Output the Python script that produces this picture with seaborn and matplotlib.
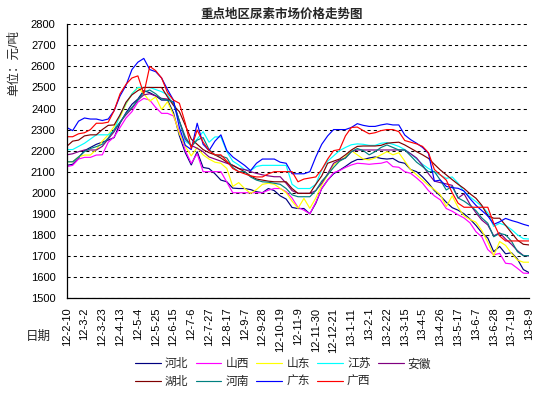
import numpy as np
import pandas as pd
import seaborn as sns
import matplotlib
matplotlib.use('Agg')
import matplotlib.pyplot as plt

# weekly prices, 2012-02-10 .. 2013-08-09 (79 weeks), 元/吨
tick_labels = ['12-2-10', '12-3-2', '12-3-23', '12-4-13', '12-5-4', '12-5-25', '12-6-15',
               '12-7-6', '12-7-27', '12-8-17', '12-9-7', '12-9-28', '12-10-19', '12-11-9',
               '12-11-30', '12-12-21', '13-1-11', '13-2-1', '13-2-22', '13-3-15', '13-4-5',
               '13-4-26', '13-5-17', '13-6-7', '13-6-28', '13-7-19', '13-8-9']

hebei = [2130, 2135, 2165, 2200, 2215, 2230, 2240, 2250, 2262, 2330,
         2380, 2420, 2445, 2485, 2475, 2460, 2440, 2440, 2380, 2270,
         2190, 2132, 2195, 2120, 2115, 2090, 2060, 2052, 2022, 2020,
         2020, 2015, 2005, 2000, 2020, 2010, 1985, 1970, 1930, 1925,
         1925, 1900, 1950, 2020, 2060, 2090, 2107, 2125, 2145, 2158,
         2158, 2165, 2170, 2163, 2160, 2163, 2146, 2140, 2110, 2100,
         2075, 2045, 2010, 1985, 1955, 1929, 1917, 1900, 1875, 1845,
         1810, 1785, 1720, 1745, 1710, 1715, 1685, 1635, 1620]
shanxi = [2124, 2130, 2160, 2168, 2168, 2179, 2180, 2240, 2265, 2310,
          2355, 2385, 2430, 2448, 2440, 2405, 2377, 2377, 2365, 2290,
          2200, 2140, 2185, 2100, 2100, 2100, 2100, 2050, 2000, 2000,
          2000, 2000, 2000, 2000, 2012, 2020, 2020, 2005, 1975, 1930,
          1917, 1900, 1955, 2020, 2060, 2095, 2105, 2120, 2132, 2140,
          2138, 2135, 2138, 2140, 2148, 2124, 2121, 2100, 2092, 2070,
          2045, 2010, 1985, 1966, 1925, 1912, 1895, 1880, 1857, 1815,
          1790, 1730, 1705, 1712, 1665, 1662, 1641, 1618, 1617]
shandong = [2147, 2147, 2170, 2179, 2179, 2205, 2245, 2275, 2315, 2360,
            2420, 2470, 2500, 2470, 2435, 2455, 2395, 2432, 2370, 2280,
            2220, 2175, 2215, 2180, 2160, 2145, 2140, 2115, 2030, 2048,
            2020, 1997, 2015, 2040, 2045, 2040, 2021, 2000, 1960, 1926,
            1973, 1926, 1975, 2037, 2084, 2132, 2150, 2170, 2200, 2180,
            2160, 2156, 2165, 2180, 2195, 2180, 2190, 2150, 2110, 2085,
            2060, 2035, 2015, 1990, 1934, 1985, 1930, 1890, 1873, 1860,
            1820, 1765, 1701, 1768, 1750, 1712, 1680, 1670, 1670]
jiangsu = [2205, 2205, 2220, 2235, 2255, 2275, 2275, 2275, 2295, 2370,
           2425, 2470, 2500, 2500, 2500, 2490, 2480, 2465, 2420, 2340,
           2245, 2225, 2255, 2290, 2240, 2265, 2265, 2195, 2150, 2132,
           2110, 2105, 2125, 2130, 2130, 2130, 2130, 2130, 2040, 2020,
           2020, 2020, 2040, 2110, 2150, 2175, 2200, 2215, 2228, 2232,
           2230, 2225, 2225, 2235, 2238, 2230, 2220, 2205, 2185, 2160,
           2135, 2115, 2100, 2084, 2068, 2075, 2045, 2005, 1980, 1958,
           1935, 1905, 1840, 1855, 1845, 1825, 1800, 1782, 1780]
anhui = [2180, 2185, 2195, 2203, 2203, 2203, 2220, 2255, 2290, 2335,
         2370, 2400, 2440, 2465, 2470, 2460, 2448, 2445, 2430, 2340,
         2255, 2225, 2211, 2195, 2170, 2160, 2150, 2140, 2130, 2115,
         2110, 2100, 2092, 2085, 2080, 2076, 2076, 2045, 2010, 1997,
         1997, 1997, 2010, 2045, 2090, 2140, 2155, 2165, 2195, 2203,
         2203, 2203, 2203, 2203, 2203, 2203, 2203, 2203, 2185, 2165,
         2130, 2090, 2055, 2048, 2042, 2035, 1975, 1995, 1945, 1905,
         1870, 1847, 1795, 1810, 1780, 1755, 1725, 1702, 1700]
hubei = [2220, 2245, 2250, 2270, 2275, 2275, 2300, 2320, 2322, 2370,
         2430, 2465, 2485, 2500, 2500, 2500, 2500, 2455, 2415, 2385,
         2320, 2255, 2230, 2205, 2190, 2180, 2165, 2145, 2130, 2115,
         2100, 2080, 2065, 2060, 2055, 2052, 2052, 2052, 2020, 1997,
         1997, 1997, 2040, 2080, 2140, 2150, 2160, 2180, 2203, 2220,
         2222, 2222, 2222, 2225, 2235, 2238, 2240, 2227, 2211, 2195,
         2180, 2163, 2135, 2108, 2085, 2062, 2040, 2020, 1995, 1974,
         1940, 1890, 1879, 1879, 1845, 1810, 1775, 1755, 1752]
henan = [2147, 2147, 2170, 2195, 2210, 2219, 2230, 2260, 2300, 2335,
         2377, 2405, 2440, 2478, 2488, 2470, 2445, 2440, 2430, 2340,
         2266, 2219, 2250, 2262, 2205, 2180, 2175, 2165, 2120, 2100,
         2100, 2075, 2060, 2052, 2050, 2045, 2040, 2020, 1990, 1981,
         1981, 1981, 2010, 2055, 2085, 2120, 2150, 2165, 2195, 2210,
         2200, 2180, 2195, 2215, 2227, 2215, 2203, 2203, 2175, 2145,
         2124, 2100, 2100, 2060, 2013, 2030, 1975, 1960, 1940, 1915,
         1880, 1855, 1791, 1807, 1800, 1770, 1720, 1701, 1701]
guangdong = [2310, 2295, 2340, 2355, 2350, 2350, 2343, 2350, 2390, 2460,
             2510, 2585, 2620, 2638, 2585, 2575, 2545, 2490, 2440, 2310,
             2225, 2205, 2330, 2230, 2200, 2245, 2275, 2200, 2170, 2150,
             2130, 2105, 2140, 2160, 2160, 2160, 2145, 2140, 2090, 2090,
             2090, 2100, 2170, 2230, 2270, 2300, 2300, 2300, 2310, 2328,
             2320, 2315, 2315, 2322, 2327, 2322, 2322, 2274, 2252, 2235,
             2215, 2187, 2055, 2060, 2030, 2024, 2021, 2008, 1972, 1940,
             1915, 1890, 1850, 1862, 1878, 1868, 1860, 1850, 1842]
guangxi = [2266, 2266, 2280, 2285, 2300, 2330, 2330, 2335, 2390, 2470,
           2515, 2545, 2555, 2470, 2600, 2580, 2545, 2475, 2440, 2425,
           2330, 2210, 2298, 2240, 2200, 2180, 2180, 2150, 2115, 2100,
           2090, 2080, 2075, 2075, 2090, 2100, 2100, 2100, 2100, 2052,
           2065, 2070, 2075, 2110, 2160, 2200, 2205, 2270, 2310, 2312,
           2295, 2280, 2285, 2295, 2300, 2300, 2290, 2248, 2240, 2232,
           2220, 2190, 2110, 2085, 2060, 2000, 1950, 1931, 1931, 1931,
           1931, 1931, 1855, 1795, 1771, 1771, 1771, 1771, 1771]

regions = ['河北', '山西', '山东', '江苏', '安徽', '湖北', '河南', '广东', '广西']
colors = ['#000080', '#FF00FF', '#FFFF00', '#00FFFF', '#800080',
          '#800000', '#008080', '#0000FF', '#FF0000']
values = [hebei, shanxi, shandong, jiangsu, anhui, hubei, henan, guangdong, guangxi]

weeks = np.arange(len(hebei))
wide = pd.DataFrame(dict(zip(regions, values)))
wide['week'] = weeks
df = wide.melt(id_vars='week', var_name='region', value_name='price')

sns.set_style('white')
plt.rcParams['font.family'] = ['Liberation Sans', 'Noto Sans CJK SC']
plt.rcParams['axes.unicode_minus'] = False

W, H = 559, 394
fig = plt.figure(figsize=(W / 100, H / 100), dpi=100)
ax = fig.add_axes([66.7 / W, 1 - 298 / H, (529.3 - 66.7) / W, (298 - 24.3) / H])

sns.lineplot(data=df, x='week', y='price', hue='region', hue_order=regions,
             palette=dict(zip(regions, colors)), linewidth=0.85, ax=ax)

ax.set_xlim(0, weeks[-1])
ax.set_ylim(1500, 2800)
ax.set_yticks(np.arange(1500, 2801, 100))
ax.set_xticks(weeks[::3])
ax.set_xticklabels(tick_labels, rotation=90)
ax.grid(axis='y', color='black', linestyle=(0, (3, 3)), linewidth=0.75)
ax.grid(axis='x', visible=False)
for s in ['top', 'right']:
    ax.spines[s].set_visible(False)
for s in ['left', 'bottom']:
    ax.spines[s].set_color('black')
    ax.spines[s].set_linewidth(0.9)
ax.tick_params(axis='x', direction='in', length=3, width=0.8, pad=7, labelsize=8, colors='black')
ax.tick_params(axis='y', length=0, pad=8, labelsize=8, colors='black')
ax.set_xlabel('')
ax.set_ylabel('单位：元/吨', fontsize=9)
ax.yaxis.set_label_coords(-0.1, 0.86)

fig.text(282 / W, 1 - 15 / H, '重点地区尿素市场价格走势图', ha='center', va='center',
         fontsize=9, fontweight='bold')
fig.text(38.5 / W, 1 - 337 / H, '日期', ha='center', va='center', fontsize=9)

handles, labels = ax.get_legend_handles_labels()
ax.legend_.remove()
order = [0, 5, 1, 6, 2, 7, 3, 8, 4]
fig.legend([handles[i] for i in order], [labels[i] for i in order], ncol=5,
           loc='center', bbox_to_anchor=(283 / W, 1 - 373 / H), frameon=False,
           fontsize=8.5, handlelength=2.2, handletextpad=0.35, columnspacing=0.6,
           labelspacing=0.45, borderpad=0)

fig.savefig('out.png', dpi=100)
